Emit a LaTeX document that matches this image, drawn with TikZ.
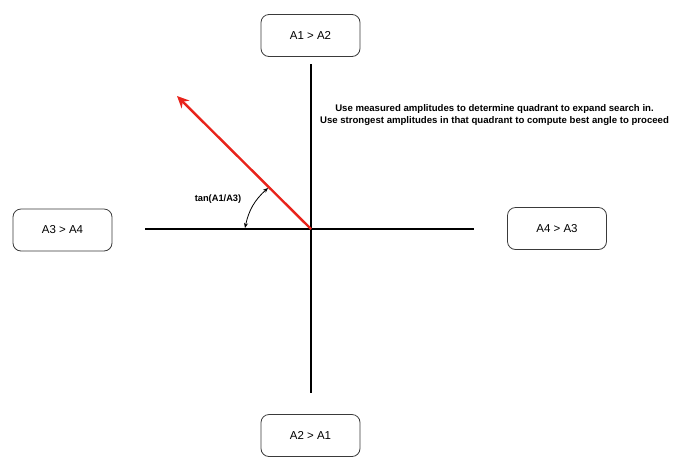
\documentclass[tikz,border=0pt]{standalone}
\usepackage{fontspec}
\setmainfont{Liberation Sans}
\usetikzlibrary{arrows.meta}
\definecolor{redarrow}{HTML}{E8231B}
\definecolor{boxline}{HTML}{3A3A3A}
\begin{document}
\begin{tikzpicture}[x=1pt,y=-1pt,
  qbox/.style={draw=boxline,line width=0.8pt,rounded corners=8pt,minimum width=99pt,minimum height=42pt,inner sep=0pt,font=\fontsize{11.5}{13}\selectfont},
  axis/.style={line width=2.4pt,black},
  note/.style={font=\bfseries\fontsize{9.6}{12}\selectfont,align=center}]
\useasboundingbox (0,0) rectangle (677,459);
\node[qbox] (top) at (310.5,35.5) {A1 > A2};
\node[qbox] (left) at (62.5,230) {A3 > A4};
\node[qbox] (right) at (557,228.5) {A4 > A3};
\node[qbox] (bottom) at (310.5,435.5) {A2 > A1};
\coordinate (o) at (311,229);
\coordinate (n) at (311,64);
\coordinate (s) at (311,393);
\coordinate (w) at (145,229);
\coordinate (e) at (474,229);
\draw[axis] (n) -- (s);
\draw[axis] (w) -- (e);
\coordinate (tip) at (177,96);
\draw[redarrow,line width=2.4pt,-{Stealth[length=12pt,width=11pt]}] (o) -- (tip);
\coordinate (a1) at (268,188);
\coordinate (a2) at (245,228);
\draw[line width=0.8pt,{Stealth[length=5pt,width=4pt]}-{Stealth[length=5pt,width=4pt]}] (a1) to[bend right=18] (a2);
\node[font=\bfseries\fontsize{9.3}{11}\selectfont] (lab) at (218,199) {tan(A1/A3)};
\node[note] (txt) at (494.5,115) {Use measured amplitudes to determine quadrant to expand search in.\\Use strongest amplitudes in that quadrant to compute best angle to proceed};
\end{tikzpicture}
\end{document}
